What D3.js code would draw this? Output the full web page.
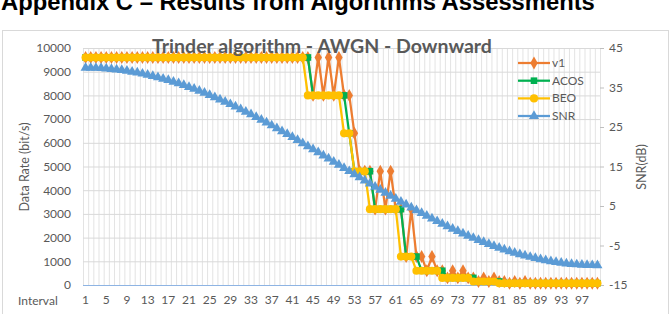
<!DOCTYPE html>
<html><head><meta charset="utf-8">
<script src="https://cdn.jsdelivr.net/npm/d3@7/dist/d3.min.js"></script>
<style>body{margin:0;background:#fff;overflow:hidden}svg{display:block}</style>
</head><body>
<svg id="chart" width="672" height="314"></svg>
<script>
// ---------- data ----------
const intervals = d3.range(1, 101);
const xTickLabels = [1,5,9,13,17,21,25,29,33,37,41,45,49,53,57,61,65,69,73,77,81,85,89,93,97];
const leftTicks = [0,1000,2000,3000,4000,5000,6000,7000,8000,9000,10000];
const rightTicks = [-15,-5,5,15,25,35,45];
const seriesNames = ["v1","ACOS","BEO","SNR"];

const v1 = [
 9600,9600,9600,9600,9600,9600,9600,9600,9600,9600,
 9600,9600,9600,9600,9600,9600,9600,9600,9600,9600,
 9600,9600,9600,9600,9600,9600,9600,9600,9600,9600,
 9600,9600,9600,9600,9600,9600,9600,9600,9600,9600,
 9600,9600,9600,9600,8000,9600,8000,9600,8000,9600,
 8000,8000,6400,4800,4800,4800,3200,4800,3200,4800,
 3200,3200,1200,3200,1200,1200,600,1200,600,600,
 300,600,300,600,300,300,150,300,150,300,
 150,150,75,150,75,150,75,75,75,75,
 75,75,75,75,75,75,75,75,75,75];
const acos = [
 9600,9600,9600,9600,9600,9600,9600,9600,9600,9600,
 9600,9600,9600,9600,9600,9600,9600,9600,9600,9600,
 9600,9600,9600,9600,9600,9600,9600,9600,9600,9600,
 9600,9600,9600,9600,9600,9600,9600,9600,9600,9600,
 9600,9600,9600,9600,8000,8000,8000,8000,8000,8000,
 8000,6400,4800,4800,4800,4800,3200,3200,3200,3200,
 3200,3200,1200,1200,1200,600,600,600,600,600,
 300,300,300,300,300,300,150,150,150,150,
 150,75,75,75,75,75,75,75,75,75,
 75,75,75,75,75,75,75,75,75,75];
const beo = [
 9600,9600,9600,9600,9600,9600,9600,9600,9600,9600,
 9600,9600,9600,9600,9600,9600,9600,9600,9600,9600,
 9600,9600,9600,9600,9600,9600,9600,9600,9600,9600,
 9600,9600,9600,9600,9600,9600,9600,9600,9600,9600,
 9600,9600,9600,8000,8000,8000,8000,8000,8000,8000,
 6400,6400,4800,4800,4800,3200,3200,3200,3200,3200,
 3200,1200,1200,1200,600,600,600,600,600,300,
 300,300,300,300,300,150,150,150,150,150,
 75,75,75,75,75,75,75,75,75,75,
 75,75,75,75,75,75,75,75,75,75];
const snr = [
 40.0,39.99,39.95,39.89,39.80,39.69,39.55,39.39,39.20,38.99,
 38.75,38.49,38.21,37.90,37.57,37.22,36.85,36.45,36.03,35.59,
 35.13,34.65,34.15,33.63,33.09,32.54,31.97,31.37,30.77,30.15,
 29.50,28.85,28.18,27.50,26.81,26.10,25.39,24.66,23.92,23.18,
 22.42,21.66,20.89,20.12,19.34,18.56,17.77,16.98,16.19,15.40,
 14.60,13.81,13.02,12.23,11.44,10.66,9.88,9.11,8.34,7.58,
 6.82,6.08,5.34,4.61,3.90,3.19,2.50,1.82,1.15,0.50,
 -0.15,-0.77,-1.37,-1.97,-2.54,-3.09,-3.63,-4.15,-4.65,-5.13,
 -5.59,-6.03,-6.45,-6.85,-7.22,-7.57,-7.90,-8.21,-8.49,-8.75,
 -8.99,-9.20,-9.39,-9.55,-9.69,-9.80,-9.89,-9.95,-9.99,-10.0];

// ---------- layout ----------
const L = 83, R = 600, T = 48, B = 285;
const svg = d3.select("#chart");
const FONT = "Lato, 'Open Sans', 'Liberation Sans', sans-serif";
const TXT = "#595959";

function fitText(sel, width) {
  const len = sel.node().getComputedTextLength();
  const fs = parseFloat(sel.attr("font-size"));
  sel.attr("font-size", (fs * width / len).toFixed(2));
}

// page heading (partially cut off at the top, as in the source page)
const head = svg.append("text").attr("x", 1).attr("y", 10)
  .attr("font-family", "'Liberation Sans', Arial, sans-serif").attr("font-weight", "bold")
  .attr("font-size", 20).attr("fill", "#000")
  .text("Appendix C \u2013 Results from Algorithms Assessments");
fitText(head, 594);

// chart border
svg.append("rect").attr("x", 2.5).attr("y", 30.5).attr("width", 666).attr("height", 300)
  .attr("fill", "none").attr("stroke", "#D9D9D9").attr("stroke-width", 1);

const x = d3.scaleBand().domain(intervals).range([L, R]).paddingInner(0).paddingOuter(0);
const bw = x.bandwidth();
const cx = d => x(d) + bw / 2;
const yL = d3.scaleLinear().domain([0, 10000]).range([B, T]);
const yR = d3.scaleLinear().domain([-15, 45]).range([B, T]);

// vertical gridlines at category boundaries
const vg = svg.append("g");
vg.selectAll("line").data(intervals).join("line")
  .attr("x1", d => x(d) + 0.5).attr("x2", d => x(d) + 0.5)
  .attr("y1", T).attr("y2", B).attr("stroke", "#DCDCDC").attr("stroke-width", 0.8);
vg.append("line").attr("x1", R + 0.5).attr("x2", R + 0.5).attr("y1", T).attr("y2", B)
  .attr("stroke", "#DCDCDC").attr("stroke-width", 0.8);

// horizontal gridlines + left axis labels
const gl = svg.append("g").attr("transform", `translate(${L},0)`)
  .call(d3.axisLeft(yL).tickValues(leftTicks).tickSize(-(R - L)).tickPadding(12).tickFormat(d3.format("d")));
gl.select(".domain").remove();
gl.selectAll(".tick line").attr("stroke", "#D9D9D9").attr("stroke-width", 1);
gl.selectAll(".tick text").attr("font-family", FONT).attr("font-size", 12).attr("fill", TXT);
gl.selectAll(".tick").filter(d => d === 0).select("line").attr("stroke", "#8EB4E3");

// right axis
const gr = svg.append("g").attr("transform", `translate(${R},0)`)
  .call(d3.axisRight(yR).tickValues(rightTicks).tickSize(4).tickPadding(5).tickFormat(d => String(d)));
gr.select(".domain").remove();
gr.selectAll(".tick line").attr("stroke", "#BFBFBF");
gr.selectAll(".tick text").attr("font-family", FONT).attr("font-size", 12).attr("fill", TXT);

// x axis labels
const gx = svg.append("g").attr("transform", `translate(0,${B})`)
  .call(d3.axisBottom(x).tickValues(xTickLabels).tickSize(0).tickPadding(10));
gx.select(".domain").remove();
gx.selectAll(".tick text").attr("font-family", FONT).attr("font-size", 12).attr("fill", TXT);

// axis titles
svg.append("text").attr("x", 18).attr("y", 305).attr("font-family", FONT).attr("font-size", 12)
  .attr("fill", TXT).text("Interval");
svg.append("text").attr("transform", "translate(29,167) rotate(-90)").attr("text-anchor", "middle")
  .attr("font-family", FONT).attr("font-size", 12.5).attr("fill", TXT).text("Data Rate (bit/s)");
svg.append("text").attr("transform", "translate(646,167) rotate(-90)").attr("text-anchor", "middle")
  .attr("font-family", FONT).attr("font-size", 12.5).attr("fill", TXT).text("SNR(dB)");

// series
const series = [
  {name: "v1",   vals: v1,   y: yL, color: "#ED7D31", sym: d3.symbolDiamond,  size: 48},
  {name: "ACOS", vals: acos, y: yL, color: "#00B050", sym: d3.symbolSquare,   size: 44},
  {name: "BEO",  vals: beo,  y: yL, color: "#FFC000", sym: d3.symbolCircle,   size: 52},
  {name: "SNR",  vals: snr,  y: yR, color: "#5B9BD5", sym: d3.symbolTriangle, size: 44}
];
series.forEach(s => {
  const pts = intervals.map((d, i) => [cx(d), s.y(s.vals[i])]);
  svg.append("path").attr("d", d3.line()(pts)).attr("fill", "none")
    .attr("stroke", s.color).attr("stroke-width", 2.25).attr("stroke-linejoin", "round");
  svg.append("g").selectAll("path").data(pts).join("path")
    .attr("transform", p => `translate(${p[0]},${p[1]})`)
    .attr("d", d3.symbol().type(s.sym).size(s.size)).attr("fill", s.color);
});

// title
const title = svg.append("text").attr("x", 322).attr("y", 53).attr("text-anchor", "middle")
  .attr("font-family", FONT).attr("font-weight", "bold").attr("font-size", 16).attr("fill", TXT)
  .text("Trinder algorithm - AWGN - Downward");
fitText(title, 340);

// legend
const legY = [63, 80.7, 98.4, 116];
series.forEach((s, i) => {
  const g = svg.append("g").attr("transform", `translate(0,${legY[i]})`);
  g.append("line").attr("x1", 518).attr("x2", 550).attr("stroke", s.color).attr("stroke-width", 2.25);
  g.append("path").attr("transform", "translate(534,0)").attr("d", d3.symbol().type(s.sym).size(s.size)).attr("fill", s.color);
  g.append("text").attr("x", 552).attr("y", 4).attr("font-family", FONT).attr("font-size", 12)
    .attr("fill", TXT).text(s.name);
});
</script>
</body></html>
